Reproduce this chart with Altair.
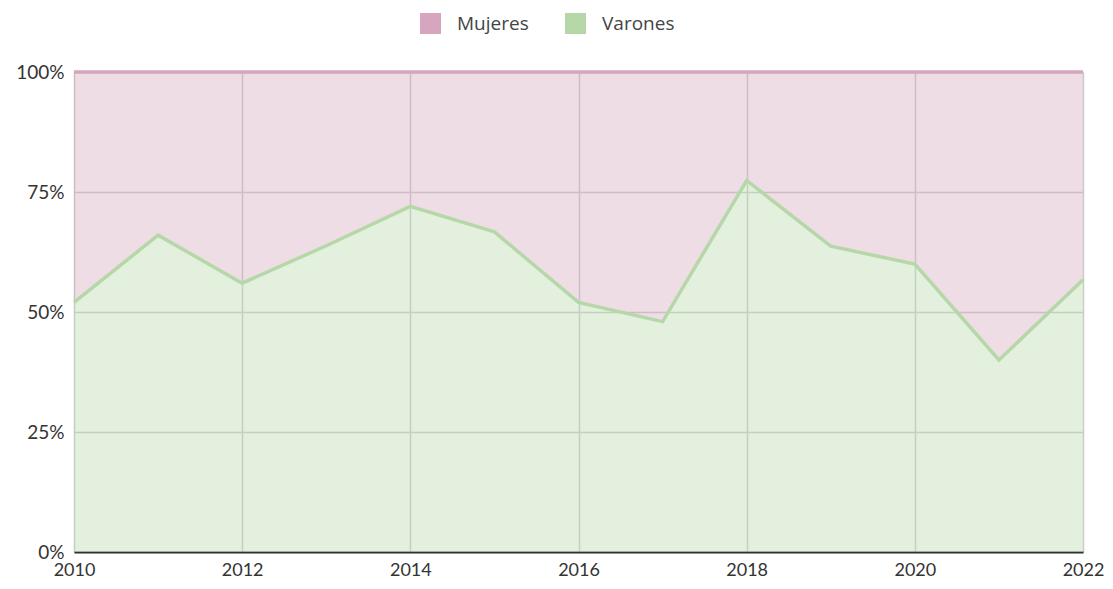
import altair as alt
import pandas as pd

years = [2010, 2011, 2012, 2013, 2014, 2015, 2016, 2017, 2018, 2019, 2020, 2021, 2022]
varones = [52.0, 66.0, 56.0, 63.8, 72.0, 66.7, 52.0, 48.0, 77.4, 63.7, 60.0, 40.0, 56.7]
mujeres = [48.0, 34.0, 44.0, 36.2, 28.0, 33.3, 48.0, 52.0, 22.6, 36.3, 40.0, 60.0, 43.3]
series = ["Mujeres", "Varones"]
colors = ["#d5a6bd", "#b6d7a8"]
x_ticks = [2010, 2012, 2014, 2016, 2018, 2020, 2022]
y_ticks = [0, 0.25, 0.5, 0.75, 1.0]

rows = []
for i, yr in enumerate(years):
    rows.append({"year": yr, "serie": "Varones", "value": varones[i], "ord": 0})
    rows.append({"year": yr, "serie": "Mujeres", "value": mujeres[i], "ord": 1})
df = pd.DataFrame(rows)

x_enc = alt.X("year:Q", scale=alt.Scale(domain=[2010, 2022], nice=False, zero=False),
              axis=alt.Axis(values=x_ticks, format="d", title=None, labelFont="Lato",
                            labelFontSize=18, labelColor="#333", labelPadding=9,
                            domainColor="#333", domainWidth=2, ticks=False,
                            gridColor="#cccccc", gridWidth=1.5, labelFlush=False))
y_enc = alt.Y("value:Q", stack="normalize", scale=alt.Scale(domain=[0, 1], nice=False),
              axis=alt.Axis(values=y_ticks, format=".0%", title=None, labelFont="Lato",
                            labelFontSize=19, labelColor="#333", labelPadding=10,
                            domain=False, ticks=False, gridColor="#cccccc", gridWidth=1.5))
color_enc = alt.Color("serie:N", scale=alt.Scale(domain=series, range=colors),
                      legend=alt.Legend(title=None, orient="none", direction="horizontal",
                                        legendX=346, legendY=-59, symbolType="square",
                                        symbolSize=441, symbolOpacity=1, symbolStrokeWidth=0,
                                        labelFont="Open Sans", labelFontSize=19,
                                        labelColor="#444", labelOffset=16,
                                        columnPadding=36))
order_enc = alt.Order("ord:Q")

base = alt.Chart(df)
area = base.mark_area(fillOpacity=0.38).encode(x=x_enc, y=y_enc, color=color_enc, order=order_enc)
line = base.mark_line(strokeWidth=3.5).encode(x=x_enc, y=y_enc, color=alt.Color("serie:N", scale=alt.Scale(domain=series, range=colors), legend=None), order=order_enc, detail="serie:N")

chart = alt.layer(area, line).properties(
    width=1009, height=480,
    autosize=alt.AutoSizeParams(type="none"),
    padding={"left": 66, "top": 64, "right": 22, "bottom": 29},
).configure_view(stroke=None)

chart.save("out.html", embed_options={"renderer": "svg", "actions": False})
